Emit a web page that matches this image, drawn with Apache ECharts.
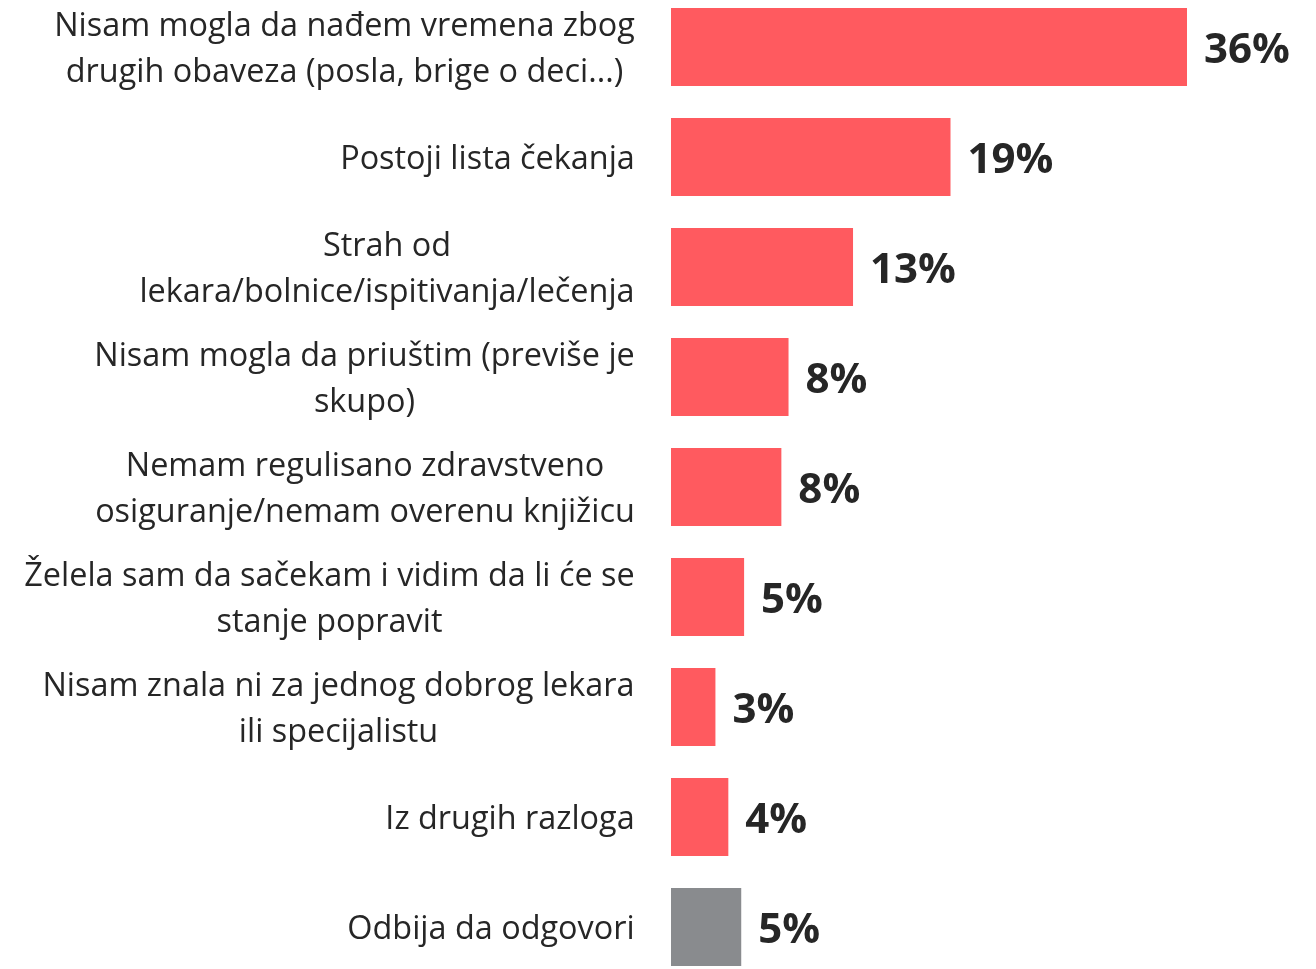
<!DOCTYPE html>
<html>
<head>
<meta charset="utf-8">
<script src="https://cdn.jsdelivr.net/npm/echarts@6/dist/echarts.min.js"></script>
<style>html,body{margin:0;padding:0;background:#fff;overflow:hidden;width:1316px;height:969px;position:relative}#c{position:absolute;left:0;top:-8px;width:1316px;height:990px}</style>
</head>
<body>
<div id="c"></div>
<script>
const categories = [
  "Nisam mogla da nađem vremena zbog\ndrugih obaveza (posla, brige o deci...)",
  "Postoji lista čekanja",
  "Strah od\nlekara/bolnice/ispitivanja/lečenja",
  "Nisam mogla da priuštim (previše je\nskupo)",
  "Nemam regulisano zdravstveno\nosiguranje/nemam overenu knjižicu",
  "Želela sam da sačekam i vidim da li će se\nstanje popravit",
  "Nisam znala ni za jednog dobrog lekara\nili specijalistu",
  "Iz drugih razloga",
  "Odbija da odgovori"
];
const values = [36.0, 19.5, 12.7, 8.2, 7.7, 5.1, 3.1, 4.0, 4.9];
const valueLabels = ["36%", "19%", "13%", "8%", "8%", "5%", "3%", "4%", "5%"];
const barColors = ["#FF5A5F","#FF5A5F","#FF5A5F","#FF5A5F","#FF5A5F","#FF5A5F","#FF5A5F","#FF5A5F","#898B8E"];

const catSize = 32.4;
const ctx = document.createElement('canvas').getContext('2d');
ctx.font = catSize + 'px "Open Sans"';
const rich = {};
const formatted = categories.map((c, i) => {
  const lines = c.split('\n');
  const w = Math.ceil(Math.max(...lines.map(l => ctx.measureText(l).width)));
  rich['l' + i] = { width: w, align: 'center', fontSize: catSize, fontFamily: 'Open Sans', color: '#262626', lineHeight: 46 };
  return lines.map(l => '{l' + i + '|' + l + '}').join('\n');
});

const chart = echarts.init(document.getElementById('c'));
chart.setOption({
  animation: false,
  grid: { left: 671, right: 0, top: 0, bottom: 0, containLabel: false },
  xAxis: { type: 'value', min: 0, max: 45, show: false },
  yAxis: {
    type: 'category', inverse: true, data: categories,
    axisLine: { show: false }, axisTick: { show: false },
    axisLabel: {
      margin: 36, align: 'right', padding: [6, 0, 0, 0],
      formatter: (v, idx) => formatted[idx],
      rich: rich
    }
  },
  series: [{
    type: 'bar', barCategoryGap: '29%',
    data: values.map((v, i) => ({ value: v, itemStyle: { color: barColors[i] } })),
    label: {
      show: true, position: 'right', distance: 17, offset: [0, 4],
      formatter: p => valueLabels[p.dataIndex],
      fontSize: 42, fontWeight: 'bold', fontFamily: 'Open Sans', color: '#262626'
    }
  }]
});
</script>
</body>
</html>
